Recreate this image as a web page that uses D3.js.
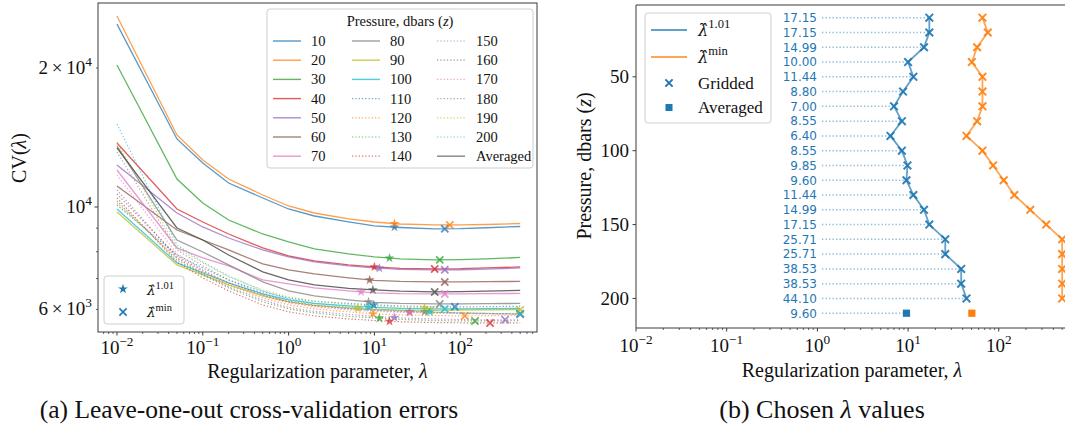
<!DOCTYPE html>
<html><head><meta charset="utf-8">
<script src="https://cdn.jsdelivr.net/npm/d3@7"></script>
<style>
body{margin:0;background:#fff}
svg{display:block}
text{font-family:"Liberation Serif","DejaVu Serif",serif;fill:#111}
</style>
</head><body>
<svg id="c" width="1065" height="432"></svg>
<script>
// ---------------- data ----------------
const lambdaGrid = [0.01,0.05,0.1,0.2,0.5,1,2,5,10,20,50,100,200,500];
const pressures = [10,20,30,40,50,60,70,80,90,100,110,120,130,140,150,160,170,180,190,200];
const cv10  = [24890,14039,12453,11270,10459,9901,9561,9280,9097,9029,8962,8975,9016,9074];
const cv20  = [25911,14321,12640,11497,10616,10050,9705,9420,9280,9188,9145,9145,9165,9211];
const cv30  = [20295,11497,10201,9373,8741,8400,8111,7912,7795,7718,7680,7691,7718,7775];
const cv40  = [13761,9901,9280,8741,8152,7834,7642,7491,7417,7362,7343,7351,7380,7417];
const cv50  = [12328,9705,9052,8568,8071,7795,7604,7454,7380,7325,7307,7314,7336,7380];
const cv60  = [11103,8917,8483,8071,7529,7307,7163,7021,6935,6900,6883,6883,6890,6900];
const cv70  = [12025,8152,7756,7454,6952,6813,6679,6581,6516,6490,6483,6483,6490,6500];
const cv80  = [13557,8483,7991,7491,6883,6581,6419,6292,6214,6184,6168,6168,6174,6184];
const cv90  = [9754,7491,7127,6780,6419,6230,6122,6047,6002,5981,5972,5978,5987,6002];
const cv100 = [9901,7566,7199,6849,6483,6292,6184,6107,6062,6032,6017,6017,6023,6032];
const cv110 = [10100,7873,7380,6952,6548,6355,6245,6184,6138,6107,6083,6077,6083,6098];
const cv120 = [10201,7756,7235,6780,6355,6138,6017,5928,5869,5840,5820,5810,5817,5825];
const cv130 = [10304,7680,7127,6679,6230,6017,5898,5795,5752,5709,5679,5665,5665,5673];
const cv140 = [10459,7604,7021,6581,6138,5928,5810,5723,5679,5642,5622,5614,5609,5611];
const cv150 = [10884,7756,7163,6712,6292,6062,5943,5854,5795,5752,5723,5706,5697,5700];
const cv160 = [10669,7834,7271,6849,6451,6230,6107,6017,5972,5934,5910,5893,5881,5869];
const cv170 = [11728,7912,7307,6849,6419,6199,6077,5987,5943,5913,5893,5878,5866,5857];
const cv180 = [13158,8071,7454,6952,6483,6261,6138,6032,5987,5957,5919,5898,5884,5869];
const cv190 = [13830,8152,7566,7057,6614,6387,6261,6153,6107,6071,6035,6014,5999,5987];
const cv200 = [15118,8275,7604,7092,6581,6324,6184,6077,6017,5972,5922,5898,5881,5869];
const cvAveraged = [13423,9006,8483,7873,7235,6952,6780,6662,6614,6571,6548,6555,6571,6597];

const lam101 = [17.15,17.15,14.99,10.00,11.44,8.80,7.00,8.55,6.40,8.55,9.85,9.60,11.44,14.99,17.15,25.71,25.71,38.53,38.53,44.10];
const lamMin = [66.10,75.65,57.76,50.47,66.10,66.10,66.10,57.76,44.10,66.10,86.57,113.4,148.5,222.6,333.6,500,500,500,500,500];
const lam101Averaged = 9.60;
const lamMinAveraged = 50.47;
const averagedRow = 210;

const xTickExps = [-2,-1,0,1,2];
const yTickLeft = [{v:6000,m:"6",e:"3"},{v:10000,m:"",e:"4"},{v:20000,m:"2",e:"4"}];
const yTickRight = [50,100,150,200];

const tab10 = ["#1f77b4","#ff7f0e","#2ca02c","#d62728","#9467bd","#8c564b","#e377c2","#7f7f7f","#bcbd22","#17becf"];
const curves = [cv10,cv20,cv30,cv40,cv50,cv60,cv70,cv80,cv90,cv100,cv110,cv120,cv130,cv140,cv150,cv160,cv170,cv180,cv190,cv200];
const avgColor = "#4d4d4d";

// ---------------- helpers ----------------
const svg = d3.select("#c");
const AX = "#3a3a3a";
function cvAt(vals, lam){
  let i = d3.bisectRight(lambdaGrid, lam) - 1;
  i = Math.max(0, Math.min(lambdaGrid.length-2, i));
  const t = (Math.log(lam)-Math.log(lambdaGrid[i]))/(Math.log(lambdaGrid[i+1])-Math.log(lambdaGrid[i]));
  return Math.exp(Math.log(vals[i]) + t*(Math.log(vals[i+1])-Math.log(vals[i])));
}
function sci(g, x, y, anchor, mant, exp, fs){
  const t = g.append("text").attr("x",x).attr("y",y).attr("text-anchor",anchor).attr("font-size",fs);
  if (mant) t.append("tspan").text(mant+"\u2009×\u2009");
  t.append("tspan").text("10");
  t.append("tspan").attr("dy",-fs*0.42).attr("font-size",fs*0.7).text(exp);
  return t;
}
function hatLam(g, x, y, sup, fs, anchor){
  const t = g.append("text").attr("x",x).attr("y",y).attr("font-size",fs).attr("text-anchor",anchor||"start");
  t.append("tspan").style("font-family","'DejaVu Serif'").style("font-style","italic").attr("font-size",fs*0.9).text("λ\u0302");
  t.append("tspan").attr("dy",-fs*0.42).attr("font-size",fs*0.7).text(sup);
  return t;
}
function xMark(g, cx, cy, r, color, op, sw){
  g.append("path").attr("d",`M${cx-r},${cy-r}L${cx+r},${cy+r}M${cx-r},${cy+r}L${cx+r},${cy-r}`)
   .attr("stroke",color).attr("stroke-width",sw||1.8).attr("opacity",op).attr("fill","none");
}
function starMark(g, cx, cy, color, op){
  g.append("path").attr("d", d3.symbol().type(d3.symbolStar).size(30)())
   .attr("transform",`translate(${cx},${cy})`).attr("fill",color).attr("opacity",op);
}
function minorTicksLog(lo, hi){
  const out=[];
  for (let e=Math.floor(Math.log10(lo))-1; e<=Math.ceil(Math.log10(hi)); e++)
    for (let k=2;k<=9;k++){ const v=k*Math.pow(10,e); if(v>=lo && v<=hi) out.push(v); }
  return out;
}

// ---------------- left chart ----------------
const L = {x0:98, x1:537, y0:3, y1:332};
const xL = d3.scaleLog().domain([Math.pow(10,-2.221), Math.pow(10,2.895)]).range([L.x0, L.x1]);
const yL = d3.scaleLog().domain([5362, 27650]).range([L.y1, L.y0]);
const gL = svg.append("g");
svg.append("defs").append("clipPath").attr("id","clipL").append("rect")
  .attr("x",L.x0).attr("y",L.y0).attr("width",L.x1-L.x0).attr("height",L.y1-L.y0);
const plotL = gL.append("g").attr("clip-path","url(#clipL)");
const lineL = d3.line().x(d=>xL(d[0])).y(d=>yL(d[1]));

curves.forEach((vals,i)=>{
  const dotted = i>=10;
  plotL.append("path").attr("d", lineL(lambdaGrid.map((l,j)=>[l,vals[j]])))
    .attr("fill","none").attr("stroke",tab10[i%10])
    .attr("stroke-width", dotted?1.2:1.3).attr("opacity", dotted?0.65:0.75)
    .attr("stroke-dasharray", dotted?"1.3,2":null);
});
plotL.append("path").attr("d", lineL(lambdaGrid.map((l,j)=>[l,cvAveraged[j]])))
  .attr("fill","none").attr("stroke",avgColor).attr("stroke-width",1.3).attr("opacity",0.85);

curves.forEach((vals,i)=>{
  const c = tab10[i%10];
  starMark(plotL, xL(lam101[i]), yL(cvAt(vals,lam101[i])), c, 0.75);
  xMark(plotL, xL(lamMin[i]), yL(cvAt(vals,lamMin[i])), 3.6, c, 0.75, 1.8);
});
starMark(plotL, xL(lam101Averaged), yL(cvAt(cvAveraged,lam101Averaged)), avgColor, 0.75);
xMark(plotL, xL(lamMinAveraged), yL(cvAt(cvAveraged,lamMinAveraged)), 3.6, avgColor, 0.75, 1.8);

// frame
gL.append("rect").attr("x",L.x0).attr("y",L.y0).attr("width",L.x1-L.x0).attr("height",L.y1-L.y0)
  .attr("fill","none").attr("stroke",AX).attr("stroke-width",1);
// x ticks
xTickExps.forEach(e=>{
  const x = xL(Math.pow(10,e));
  gL.append("line").attr("x1",x).attr("x2",x).attr("y1",L.y1).attr("y2",L.y1+3.5).attr("stroke",AX);
  sci(gL, x, 354, "middle", "", e<0?"−"+(-e):String(e), 19);
});
minorTicksLog(xL.domain()[0], xL.domain()[1]).forEach(v=>{
  const x = xL(v);
  gL.append("line").attr("x1",x).attr("x2",x).attr("y1",L.y1).attr("y2",L.y1+2).attr("stroke",AX).attr("stroke-width",0.8);
});
// y ticks
[6000,7000,8000,9000,20000].forEach(v=>{
  const y=yL(v);
  gL.append("line").attr("x1",L.x0-2).attr("x2",L.x0).attr("y1",y).attr("y2",y).attr("stroke",AX).attr("stroke-width",0.8);
});
gL.append("line").attr("x1",L.x0-3.5).attr("x2",L.x0).attr("y1",yL(10000)).attr("y2",yL(10000)).attr("stroke",AX);
yTickLeft.forEach(t=>{ sci(gL, 92, yL(t.v)+6, "end", t.m, t.e, 19); });
// axis labels
{
  const t = gL.append("text").attr("x",(L.x0+L.x1)/2).attr("y",378).attr("text-anchor","middle").attr("font-size",20);
  t.append("tspan").text("Regularization parameter, ");
  t.append("tspan").style("font-style","italic").text("λ");
  const t2 = gL.append("text").attr("transform","translate(26,158) rotate(-90)").attr("text-anchor","middle").attr("font-size",20);
  t2.append("tspan").text("CV(");
  t2.append("tspan").style("font-style","italic").text("λ");
  t2.append("tspan").text(")");
}
// big legend
{
  const lg = gL.append("g");
  lg.append("rect").attr("x",267).attr("y",9).attr("width",266).attr("height",159).attr("rx",3)
    .attr("fill","white").attr("fill-opacity",0.85).attr("stroke","#cfcfcf");
  const tt = lg.append("text").attr("x",400).attr("y",26).attr("text-anchor","middle").attr("font-size",14.5);
  tt.append("tspan").text("Pressure, dbars (");
  tt.append("tspan").style("font-style","italic").text("z");
  tt.append("tspan").text(")");
  const colLine=[273,352,437], colText=[311,390,476];
  const entries = pressures.map((p,i)=>({label:String(p), color:tab10[i%10], dotted:i>=10}));
  entries.push({label:"Averaged", color:avgColor, dotted:false, avg:true});
  entries.forEach((en,k)=>{
    const col=Math.floor(k/7), row=k%7;
    const y = 41 + row*19.2;
    lg.append("line").attr("x1",colLine[col]).attr("x2",colLine[col]+28).attr("y1",y).attr("y2",y)
      .attr("stroke",en.color).attr("stroke-width",en.avg?1.6:(en.dotted?1.2:1.4))
      .attr("opacity",en.avg?0.6:(en.dotted?0.65:0.75)).attr("stroke-dasharray",en.dotted?"1.3,2":null);
    lg.append("text").attr("x",colText[col]).attr("y",y+5).attr("font-size",14.5).text(en.label);
  });
}
// small legend
{
  const lg = gL.append("g");
  lg.append("rect").attr("x",104).attr("y",276).attr("width",80).attr("height",48).attr("rx",3)
    .attr("fill","white").attr("fill-opacity",0.85).attr("stroke","#cfcfcf");
  starMark(lg,123,289,tab10[0],1);
  hatLam(lg,147,295,"1.01",15);
  xMark(lg,123,312,3.6,tab10[0],1,1.6);
  hatLam(lg,147,317,"min",15);
}

// ---------------- right chart ----------------
const R = {x0:636, x1:1068, y0:5, y1:328};
const xR = d3.scaleLog().domain([0.01, 580]).range([R.x0, R.x1]);
const yR = d3.scaleLinear().domain([1.4, 220]).range([R.y0, R.y1]);
const gR = svg.append("g");
const labelX = 817;

function rowLabel(y, val){
  gR.append("line").attr("x1",labelX+5).attr("x2",xR(val)).attr("y1",y).attr("y2",y)
    .attr("stroke",tab10[0]).attr("stroke-width",1.5).attr("opacity",0.5).attr("stroke-dasharray","1.3,2.2");
  gR.append("text").attr("x",labelX).attr("y",y+4.3).attr("text-anchor","end")
    .style("font-family","'DejaVu Sans'").attr("font-size",12).style("fill",tab10[0]).text(val.toFixed(2));
}
pressures.forEach((p,i)=> rowLabel(yR(p), lam101[i]));
rowLabel(yR(averagedRow), lam101Averaged);

const lineR = d3.line().x(d=>xR(d[0])).y(d=>yR(d[1]));
gR.append("path").attr("d",lineR(pressures.map((p,i)=>[lam101[i],p])))
  .attr("fill","none").attr("stroke",tab10[0]).attr("stroke-width",1.8).attr("opacity",0.7);
gR.append("path").attr("d",lineR(pressures.map((p,i)=>[lamMin[i],p])))
  .attr("fill","none").attr("stroke",tab10[1]).attr("stroke-width",1.8).attr("opacity",0.7);
pressures.forEach((p,i)=>{
  xMark(gR, xR(lam101[i]), yR(p), 3.8, tab10[0], 0.9, 2);
  xMark(gR, xR(lamMin[i]), yR(p), 3.8, tab10[1], 0.9, 2);
});
gR.append("rect").attr("x",xR(lam101Averaged)-3.6).attr("y",yR(averagedRow)-3.6).attr("width",7.2).attr("height",7.2).attr("fill",tab10[0]);
gR.append("rect").attr("x",xR(lamMinAveraged)-3.6).attr("y",yR(averagedRow)-3.6).attr("width",7.2).attr("height",7.2).attr("fill",tab10[1]);

// frame
gR.append("path").attr("d",`M${R.x1},${R.y0}H${R.x0}V${R.y1}H${R.x1}`).attr("fill","none").attr("stroke",AX);
xTickExps.forEach(e=>{
  const x = xR(Math.pow(10,e));
  gR.append("line").attr("x1",x).attr("x2",x).attr("y1",R.y1).attr("y2",R.y1+3.5).attr("stroke",AX);
  sci(gR, x, 352, "middle", "", e<0?"−"+(-e):String(e), 19);
});
minorTicksLog(0.011, 580).forEach(v=>{
  const x = xR(v);
  gR.append("line").attr("x1",x).attr("x2",x).attr("y1",R.y1).attr("y2",R.y1+2).attr("stroke",AX).attr("stroke-width",0.8);
});
yTickRight.forEach(v=>{
  const y=yR(v);
  gR.append("line").attr("x1",R.x0-3.5).attr("x2",R.x0).attr("y1",y).attr("y2",y).attr("stroke",AX);
  gR.append("text").attr("x",R.x0-7).attr("y",y+6.5).attr("text-anchor","end").attr("font-size",19).text(v);
});
{
  const t = gR.append("text").attr("x",852).attr("y",377).attr("text-anchor","middle").attr("font-size",20);
  t.append("tspan").text("Regularization parameter, ");
  t.append("tspan").style("font-style","italic").text("λ");
  const t2 = gR.append("text").attr("transform","translate(591,166) rotate(-90)").attr("text-anchor","middle").attr("font-size",20);
  t2.append("tspan").text("Pressure, dbars (");
  t2.append("tspan").style("font-style","italic").text("z");
  t2.append("tspan").text(")");
}
// right legend
{
  const lg = gR.append("g");
  lg.append("rect").attr("x",645).attr("y",13).attr("width",126).attr("height",110).attr("rx",3)
    .attr("fill","white").attr("fill-opacity",0.85).attr("stroke","#cfcfcf");
  lg.append("line").attr("x1",651).attr("x2",687).attr("y1",30).attr("y2",30).attr("stroke",tab10[0]).attr("stroke-width",1.8).attr("opacity",0.7);
  hatLam(lg,698,36,"1.01",18);
  lg.append("line").attr("x1",651).attr("x2",687).attr("y1",57).attr("y2",57).attr("stroke",tab10[1]).attr("stroke-width",1.8).attr("opacity",0.7);
  hatLam(lg,698,63,"min",18);
  xMark(lg,669,83,3.6,tab10[0],1,2);
  lg.append("text").attr("x",698).attr("y",89).attr("font-size",17).text("Gridded");
  lg.append("rect").attr("x",665.5).attr("y",104).attr("width",7).attr("height",7).attr("fill",tab10[0]);
  lg.append("text").attr("x",698).attr("y",113).attr("font-size",17).text("Averaged");
}

// captions
{
  svg.append("text").attr("x",249).attr("y",418).attr("text-anchor","middle").attr("font-size",25.5)
    .text("(a) Leave-one-out cross-validation errors");
  const t = svg.append("text").attr("x",822).attr("y",418).attr("text-anchor","middle").attr("font-size",26);
  t.append("tspan").text("(b) Chosen ");
  t.append("tspan").style("font-style","italic").text("λ");
  t.append("tspan").text(" values");
}
</script>
</body></html>
